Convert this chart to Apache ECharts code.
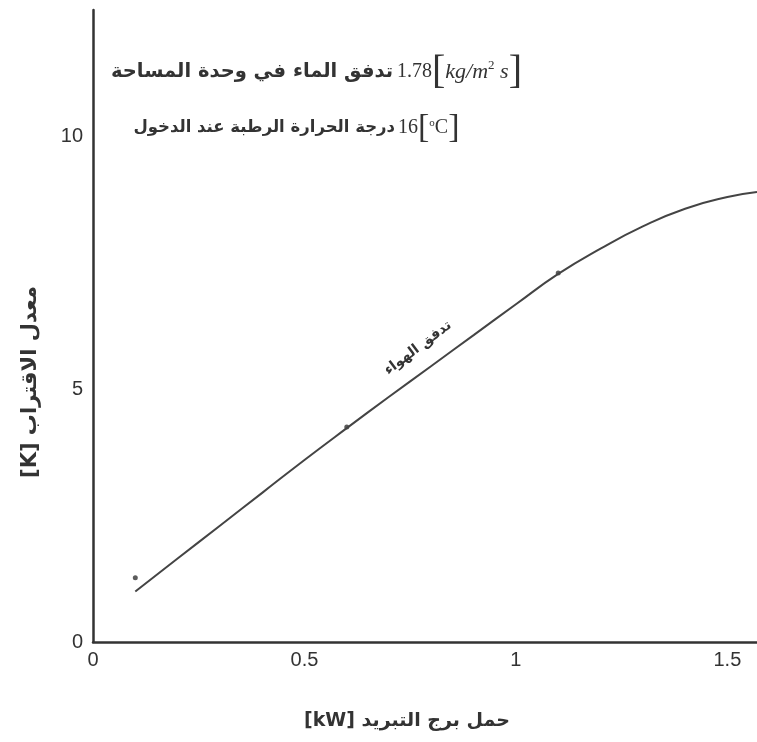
<!DOCTYPE html>
<html>
<head>
<meta charset="utf-8">
<script src="https://cdn.jsdelivr.net/npm/echarts@6/dist/echarts.min.js"></script>
<style>html,body{margin:0;padding:0;background:#fff}#c{width:757px;height:742px}</style>
</head>
<body>
<div id="c"></div>
<script>
const curveX = [0.1, 0.2, 0.3, 0.4, 0.5, 0.6, 0.7, 0.8, 0.9, 1.0, 1.1, 1.2, 1.3, 1.4, 1.5, 1.57];
const curveY = [1.0, 1.65, 2.3, 2.95, 3.6, 4.23, 4.85, 5.46, 6.07, 6.68, 7.28, 7.78, 8.22, 8.57, 8.8, 8.9];
const pointX = [0.1, 0.6, 1.1];
const pointY = [1.27, 4.25, 7.3];
const xTicks = [0, 0.5, 1, 1.5];
const yTicks = [0, 5, 10];
const xName = '[kW] حمل برج التبريد';
const yName = '[K] معدل الاقتراب';
const note1Ar = 'تدفق الماء في وحدة المساحة';
const note1Val = '1.78';
const note2Ar = 'درجة الحرارة الرطبة عند الدخول';
const note2Val = '16';
const curveLabel = 'تدفق الهواء';

const chart = echarts.init(document.getElementById('c'));
const axisColor = '#333';
const arFont = '"DejaVu Sans", sans-serif';
chart.setOption({
  backgroundColor: '#fff',
  animation: false,
  grid: { left: 93, right: 0, top: 10, bottom: 100 },
  xAxis: {
    type: 'value', min: 0, max: 1.57, interval: 0.5,
    axisLine: { show: true, lineStyle: { color: axisColor, width: 2.5 } },
    axisTick: { show: false },
    splitLine: { show: false },
    axisLabel: {
      color: '#333', fontSize: 20, fontFamily: 'Liberation Sans', margin: 8,
      showMaxLabel: false,
      formatter: v => xTicks.some(t => Math.abs(t - v) < 1e-6) ? String(v) : ''
    }
  },
  yAxis: {
    type: 'value', min: 0, max: 12.5, interval: 5,
    axisLine: { show: true, lineStyle: { color: axisColor, width: 2.5 } },
    axisTick: { show: false },
    splitLine: { show: false },
    axisLabel: {
      color: '#333', fontSize: 20, fontFamily: 'Liberation Sans', margin: 10,
      showMaxLabel: false,
      formatter: v => yTicks.some(t => Math.abs(t - v) < 1e-6) ? String(v) : ''
    }
  },
  series: [
    {
      type: 'line', smooth: true, showSymbol: false,
      data: curveX.map((x, i) => [x, curveY[i]]),
      lineStyle: { color: '#444', width: 2 }
    },
    {
      type: 'scatter', symbolSize: 5,
      data: pointX.map((x, i) => [x, pointY[i]]),
      itemStyle: { color: '#333' }
    }
  ],
  graphic: [
    { type: 'text', x: 407, y: 721, style: { text: xName, font: 'bold 19px ' + arFont, fill: '#333', align: 'center', verticalAlign: 'middle' } },
    { type: 'text', x: 31, y: 382, rotation: Math.PI / 2, style: { text: yName, font: 'bold 21px ' + arFont, fill: '#333', align: 'center', verticalAlign: 'middle' } },
    { type: 'text', x: 393, y: 72, style: { text: note1Ar, font: 'bold 19.5px ' + arFont, fill: '#333', align: 'right', verticalAlign: 'middle' } },
    { type: 'text', x: 397, y: 72, style: {
      text: note1Val + '{b|[}{i|kg/m}{s|2}{i| s}{b|]}',
      font: '20px "Liberation Serif"', fill: '#333', align: 'left', verticalAlign: 'middle',
      rich: {
        b: { fontSize: 40, fontFamily: 'Liberation Serif', fill: '#333' },
        i: { fontSize: 22, fontStyle: 'italic', fontFamily: 'Liberation Serif', fill: '#333' },
        s: { fontSize: 13, fontFamily: 'Liberation Serif', fill: '#333', padding: [0, 0, 12, 0] }
      } } },
    { type: 'text', x: 395, y: 128, style: { text: note2Ar, font: 'bold 16.5px ' + arFont, fill: '#333', align: 'right', verticalAlign: 'middle' } },
    { type: 'text', x: 398, y: 128, style: {
      text: note2Val + '{b|[}{s|o}{c|C}{b|]}',
      font: '20px "Liberation Serif"', fill: '#333', align: 'left', verticalAlign: 'middle',
      rich: {
        b: { fontSize: 34, fontFamily: 'Liberation Serif', fill: '#333' },
        s: { fontSize: 11, fontFamily: 'Liberation Serif', fill: '#333', padding: [0, 0, 10, 0] },
        c: { fontSize: 20, fontFamily: 'Liberation Serif', fill: '#333' }
      } } },
    { type: 'text', x: 418, y: 348, rotation: 37 * Math.PI / 180, style: { text: curveLabel, font: 'bold 14px ' + arFont, fill: '#333', align: 'center', verticalAlign: 'middle' } }
  ]
});
</script>
</body>
</html>
